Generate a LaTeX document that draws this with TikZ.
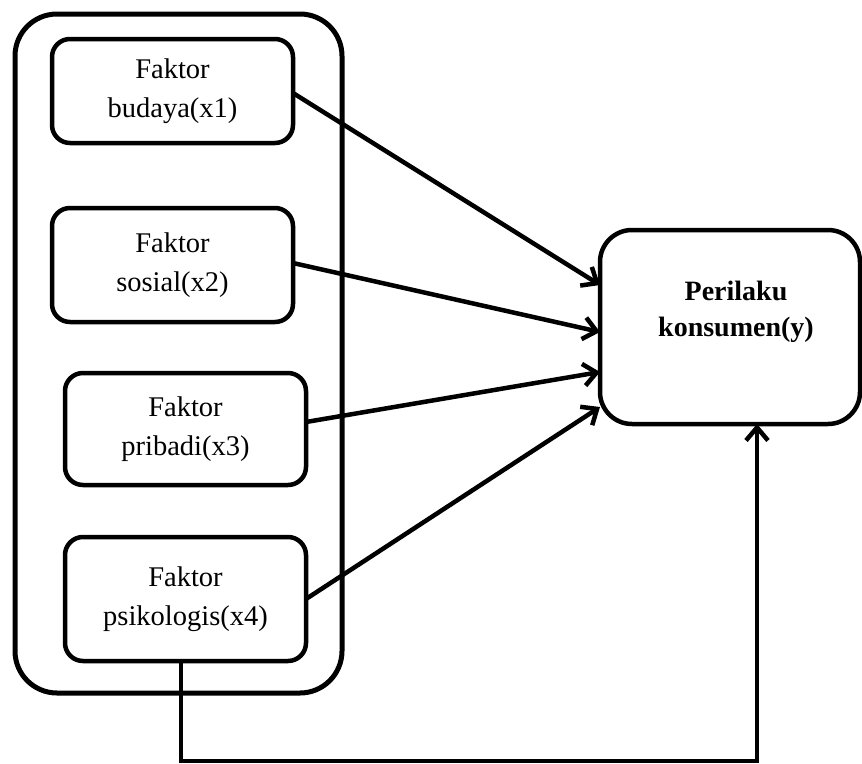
\documentclass[tikz,border=0pt]{standalone}
\usepackage{fontspec}
\setmainfont{Liberation Serif}
\usetikzlibrary{arrows.meta}
\begin{document}
\begin{tikzpicture}[x=1pt,y=-1pt,
  every node/.style={inner sep=0pt, outer sep=0pt},
  factorbox/.style={draw, line width=4.5pt, rounded corners=18pt, minimum width=241pt, align=center,
    font=\fontsize{28.5}{39}\selectfont},
  outerbox/.style={draw, line width=5pt, rounded corners=42pt, minimum width=327pt, minimum height=679pt},
  resultbox/.style={draw, line width=4.5pt, rounded corners=32pt, minimum width=260pt, minimum height=194pt},
  conn/.style={line width=4.5pt, -{Straight Barb[length=13pt, width=22pt, line width=4.5pt]}}
]
\useasboundingbox (0,0) rectangle (862,763);
\node[outerbox] (outer) at (178.5,353.5) {};
\node[factorbox, minimum height=104pt] (b1) at (172.5,91) {Faktor\\budaya(x1)};
\node[factorbox, minimum height=114pt] (b2) at (172.5,265) {Faktor\\sosial(x2)};
\node[factorbox, minimum height=112pt] (b3) at (185.5,429) {Faktor\\pribadi(x3)};
\node[factorbox, minimum height=124pt] (b4) at (185.5,599) {Faktor\\psikologis(x4)};
\node[resultbox] (rb) at (730,327) {};
\node[align=center, font=\fontsize{28}{36}\bfseries\selectfont] (rt) at (736,312) {Perilaku\\konsumen(y)};
\draw[conn] ([yshift=-2pt]b1.east) -- ([yshift=42pt]rb.west);
\draw[conn] ([yshift=2pt]b2.east) -- ([yshift=-5pt]rb.west);
\draw[conn] ([yshift=7pt]b3.east) -- ([yshift=-45pt]rb.west);
\draw[conn] (b4.east) -- ([yshift=-80pt]rb.west);
\draw[conn] ([xshift=-4.5pt]b4.south) -- ++(0,100) -| ([xshift=27pt]rb.south);
\end{tikzpicture}
\end{document}
